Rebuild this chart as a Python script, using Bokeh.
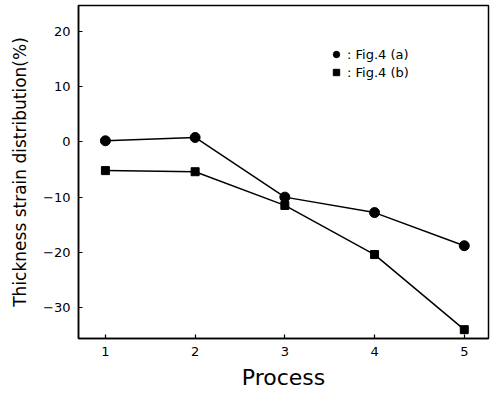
from bokeh.plotting import figure
from bokeh.models import Range1d, FixedTicker, Legend, LegendItem
from bokeh.embed import file_html
from bokeh.resources import INLINE

process = [1, 2, 3, 4, 5]
fig4a = [0.2, 0.8, -10.0, -12.8, -18.8]
fig4b = [-5.2, -5.4, -11.5, -20.4, -34.0]
x_ticks = [1, 2, 3, 4, 5]
y_ticks = [-30, -20, -10, 0, 10, 20]

p = figure(width=491, height=397, output_backend="svg", toolbar_location=None,
           x_range=Range1d(0.7, 5.27), y_range=Range1d(-35.6, 24.7),
           min_border_left=78, min_border_right=3, min_border_top=5, min_border_bottom=59)
p.grid.visible = False
p.outline_line_color = "black"
p.outline_line_width = 1.5
p.background_fill_color = "white"
p.border_fill_color = "white"

for ax in (p.xaxis[0], p.yaxis[0]):
    ax.axis_line_width = 1.5
    ax.major_tick_in = 4
    ax.major_tick_out = 0
    ax.minor_tick_line_color = None
    ax.major_tick_line_width = 1.2
    ax.major_label_text_font = "DejaVu Sans"
    ax.major_label_text_font_size = "13px"
    ax.major_label_text_color = "black"
    ax.axis_label_text_font = "DejaVu Sans"
    ax.axis_label_text_font_style = "normal"
    ax.axis_label_text_color = "black"

p.xaxis.ticker = FixedTicker(ticks=x_ticks)
p.yaxis.ticker = FixedTicker(ticks=y_ticks)
p.xaxis.axis_label = "Process"
p.xaxis.axis_label_text_font_size = "22px"
p.xaxis.axis_label_standoff = 6
p.xaxis.major_label_standoff = 8
p.yaxis.axis_label = "Thickness strain distribution(%)"
p.yaxis.axis_label_text_font_size = "17px"
p.yaxis.axis_label_standoff = 10
p.yaxis.major_label_standoff = 8

la = p.line(process, fig4a, line_color="black", line_width=1.5)
ca = p.scatter(process, fig4a, marker="circle", size=10, fill_color="black", line_color="black")
lb = p.line(process, fig4b, line_color="black", line_width=1.5)
sb = p.scatter(process, fig4b, marker="square", size=8, fill_color="black", line_color="black")

legend = Legend(items=[LegendItem(label=": Fig.4 (a)", renderers=[ca]),
                       LegendItem(label=": Fig.4 (b)", renderers=[sb])],
                location=(250, 257), border_line_color=None, background_fill_alpha=0,
                label_text_font="DejaVu Sans", label_text_font_size="13px",
                label_text_color="black",
                glyph_width=16, glyph_height=16, spacing=0, padding=2, label_standoff=3,
                label_height=18)
p.add_layout(legend)

open("out.html", "w").write(file_html(p, INLINE))
